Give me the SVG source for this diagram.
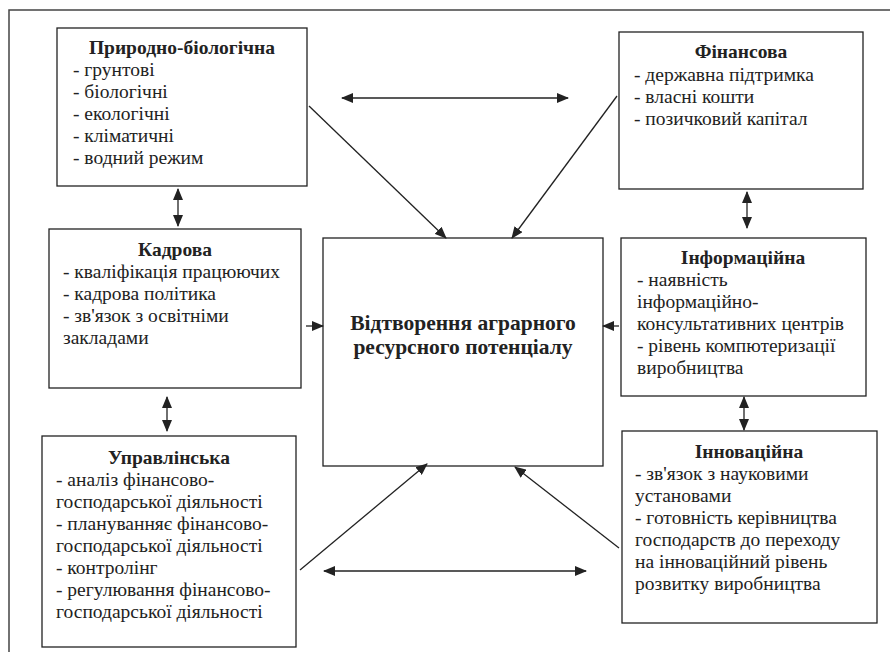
<svg xmlns="http://www.w3.org/2000/svg" width="890" height="652" viewBox="0 0 890 652">
<style>
.frame{fill:none;stroke:#444;stroke-width:1.5}
.box{fill:#fff;stroke:#222;stroke-width:1.3}
.ln{fill:none;stroke:#222;stroke-width:1.3}
</style>
<defs>
<marker id="ah" markerUnits="userSpaceOnUse" markerWidth="12" markerHeight="10" refX="11" refY="5" orient="auto-start-reverse" viewBox="0 0 12 10">
<path d="M0,0 L12,5 L0,10 z" fill="#222"/>
</marker>
</defs>
<rect class="frame" x="9" y="10" width="900" height="660"/>
<g id="node-pryrodno">
<rect class="box" x="57" y="28" width="250" height="158"/>
<text font-family="Liberation Serif" font-size="19.5" fill="#222" font-weight="bold" text-anchor="middle" x="182" y="54">Природно-біологічна</text>
<text font-family="Liberation Serif" font-size="19.5" fill="#222" x="73" y="76">- грунтові</text>
<text font-family="Liberation Serif" font-size="19.5" fill="#222" x="73" y="98">- біологічні</text>
<text font-family="Liberation Serif" font-size="19.5" fill="#222" x="73" y="120">- екологічні</text>
<text font-family="Liberation Serif" font-size="19.5" fill="#222" x="73" y="142">- кліматичні</text>
<text font-family="Liberation Serif" font-size="19.5" fill="#222" x="73" y="164">- водний режим</text>
</g>

<g id="node-finansova">
<rect class="box" x="619" y="32" width="244" height="157"/>
<text font-family="Liberation Serif" font-size="19.5" fill="#222" font-weight="bold" text-anchor="middle" x="741" y="58">Фінансова</text>
<text font-family="Liberation Serif" font-size="19.5" fill="#222" x="634" y="81">- державна підтримка</text>
<text font-family="Liberation Serif" font-size="19.5" fill="#222" x="634" y="103">- власні кошти</text>
<text font-family="Liberation Serif" font-size="19.5" fill="#222" x="634" y="125">- позичковий капітал</text>
</g>

<g id="node-kadrova">
<rect class="box" x="49" y="229" width="252" height="159"/>
<text font-family="Liberation Serif" font-size="19.5" fill="#222" font-weight="bold" text-anchor="middle" x="175" y="256">Кадрова</text>
<text font-family="Liberation Serif" font-size="19.5" fill="#222" x="63" y="278">- кваліфікація працюючих</text>
<text font-family="Liberation Serif" font-size="19.5" fill="#222" x="63" y="300">- кадрова політика</text>
<text font-family="Liberation Serif" font-size="19.5" fill="#222" x="63" y="322">- зв'язок з освітніми</text>
<text font-family="Liberation Serif" font-size="19.5" fill="#222" x="63" y="344">закладами</text>
</g>

<g id="node-informatsiina">
<rect class="box" x="621" y="238" width="245" height="158"/>
<text font-family="Liberation Serif" font-size="19.5" fill="#222" font-weight="bold" text-anchor="middle" x="743" y="264">Інформаційна</text>
<text font-family="Liberation Serif" font-size="19.5" fill="#222" x="637" y="286">- наявність</text>
<text font-family="Liberation Serif" font-size="19.5" fill="#222" x="637" y="308">інформаційно-</text>
<text font-family="Liberation Serif" font-size="19.5" fill="#222" x="637" y="330">консультативних центрів</text>
<text font-family="Liberation Serif" font-size="19.5" fill="#222" x="637" y="352">- рівень компютеризації</text>
<text font-family="Liberation Serif" font-size="19.5" fill="#222" x="637" y="374">виробництва</text>
</g>

<g id="node-upravlinska">
<rect class="box" x="42" y="436" width="254" height="211"/>
<text font-family="Liberation Serif" font-size="19.5" fill="#222" font-weight="bold" text-anchor="middle" x="169" y="464">Управлінська</text>
<text font-family="Liberation Serif" font-size="19.5" fill="#222" x="56" y="486">- аналіз фінансово-</text>
<text font-family="Liberation Serif" font-size="19.5" fill="#222" x="56" y="508">господарської діяльності</text>
<text font-family="Liberation Serif" font-size="19.5" fill="#222" x="56" y="530">- плануванняє фінансово-</text>
<text font-family="Liberation Serif" font-size="19.5" fill="#222" x="56" y="552">господарської діяльності</text>
<text font-family="Liberation Serif" font-size="19.5" fill="#222" x="56" y="574">- контролінг</text>
<text font-family="Liberation Serif" font-size="19.5" fill="#222" x="56" y="596">- регулювання фінансово-</text>
<text font-family="Liberation Serif" font-size="19.5" fill="#222" x="56" y="618">господарської діяльності</text>
</g>

<g id="node-innovatsiina">
<rect class="box" x="622" y="431" width="255" height="192"/>
<text font-family="Liberation Serif" font-size="19.5" fill="#222" font-weight="bold" text-anchor="middle" x="749" y="458">Інноваційна</text>
<text font-family="Liberation Serif" font-size="19.5" fill="#222" x="635" y="480">- зв'язок з науковими</text>
<text font-family="Liberation Serif" font-size="19.5" fill="#222" x="635" y="502">установами</text>
<text font-family="Liberation Serif" font-size="19.5" fill="#222" x="635" y="524">- готовність керівництва</text>
<text font-family="Liberation Serif" font-size="19.5" fill="#222" x="635" y="546">господарств до переходу</text>
<text font-family="Liberation Serif" font-size="19.5" fill="#222" x="635" y="568">на інноваційний рівень</text>
<text font-family="Liberation Serif" font-size="19.5" fill="#222" x="635" y="590">розвитку виробництва</text>
</g>

<g id="node-center">
<rect class="box" x="323" y="238" width="280" height="228"/>
<text font-family="Liberation Serif" font-size="21.5" fill="#222" font-weight="bold" text-anchor="middle" x="463" y="330">Відтворення аграрного</text>
<text font-family="Liberation Serif" font-size="21.5" fill="#222" font-weight="bold" text-anchor="middle" x="463" y="354">ресурсного потенціалу</text>
</g>

<g id="connectors">
<line class="ln" x1="342" y1="98" x2="568" y2="98" marker-start="url(#ah)" marker-end="url(#ah)"/>
<line class="ln" x1="309" y1="106" x2="446" y2="238" marker-end="url(#ah)"/>
<line class="ln" x1="617" y1="96" x2="512" y2="238" marker-end="url(#ah)"/>
<line class="ln" x1="178" y1="189" x2="178" y2="226" marker-start="url(#ah)" marker-end="url(#ah)"/>
<line class="ln" x1="747" y1="192" x2="747" y2="228" marker-start="url(#ah)" marker-end="url(#ah)"/>
<line class="ln" x1="306" y1="326" x2="323" y2="326" marker-end="url(#ah)"/>
<line class="ln" x1="619" y1="326" x2="603" y2="326" marker-end="url(#ah)"/>
<line class="ln" x1="167" y1="397" x2="167" y2="431" marker-start="url(#ah)" marker-end="url(#ah)"/>
<line class="ln" x1="744" y1="397" x2="744" y2="430" marker-start="url(#ah)" marker-end="url(#ah)"/>
<line class="ln" x1="300" y1="570" x2="427" y2="464" marker-end="url(#ah)"/>
<line class="ln" x1="619" y1="548" x2="515" y2="467" marker-end="url(#ah)"/>
<line class="ln" x1="324" y1="571" x2="586" y2="571" marker-start="url(#ah)" marker-end="url(#ah)"/>
</g>
</svg>
